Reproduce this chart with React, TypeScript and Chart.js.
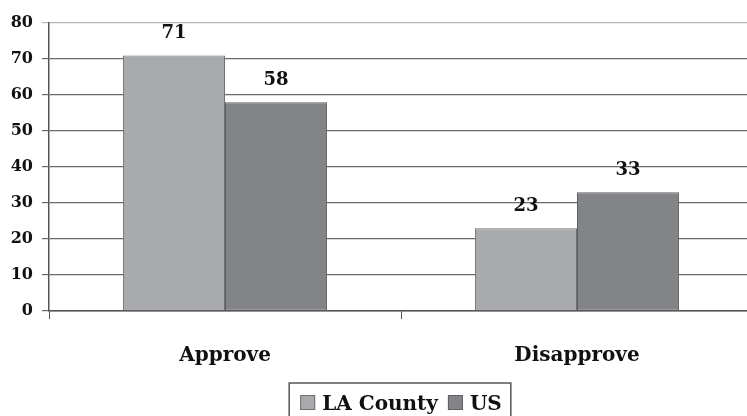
import React, { useEffect, useRef } from "react";
import { Chart, registerables } from "chart.js";

Chart.register(...registerables);

const categories = ["Approve", "Disapprove"];
const seriesNames = ["LA County", "US"];
const laCountyValues = [71, 23];
const usValues = [58, 33];
const yMin = 0;
const yMax = 80;
const yStep = 10;

const FONT = '"DejaVu Serif", serif';

const valueLabels = {
  id: "valueLabels",
  afterDatasetsDraw(chart: any) {
    const ctx = chart.ctx;
    ctx.save();
    ctx.font = `bold 18px ${FONT}`;
    ctx.fillStyle = "#111";
    ctx.textAlign = "center";
    ctx.textBaseline = "middle";
    chart.data.datasets.forEach((ds: any, i: number) => {
      const meta = chart.getDatasetMeta(i);
      meta.data.forEach((el: any, j: number) => {
        ctx.fillText(String(ds.data[j]), el.x, el.y - 22);
      });
    });
    ctx.restore();
  },
};

const boxedLegend = {
  id: "boxedLegend",
  afterDraw(chart: any) {
    const ctx = chart.ctx;
    const area = chart.chartArea;
    ctx.save();
    ctx.font = `bold 20px ${FONT}`;
    const sq = 15;
    const gapAfterSq = 7;
    const gapItems = 10;
    const items = chart.data.datasets.map((ds: any) => ({
      label: ds.label,
      fill: ds.backgroundColor,
      stroke: ds.borderColor,
      w: ctx.measureText(ds.label).width,
    }));
    let total = 0;
    items.forEach((it: any, i: number) => {
      total += sq + gapAfterSq + it.w + (i < items.length - 1 ? gapItems : 0);
    });
    const cx = (area.left + area.right) / 2;
    let x = cx - total / 2;
    const boxTop = 383;
    ctx.strokeStyle = "#555";
    ctx.lineWidth = 1.5;
    ctx.strokeRect(x - 11, boxTop, total + 20, 40);
    const sqTop = 395;
    ctx.textBaseline = "alphabetic";
    ctx.textAlign = "left";
    items.forEach((it: any) => {
      ctx.fillStyle = it.fill;
      ctx.fillRect(x, sqTop, sq, sq);
      ctx.strokeStyle = it.stroke;
      ctx.lineWidth = 1;
      ctx.strokeRect(x + 0.5, sqTop + 0.5, sq - 1, sq - 1);
      x += sq + gapAfterSq;
      ctx.fillStyle = "#111";
      ctx.fillText(it.label, x, 410);
      x += it.w + gapItems;
    });
    ctx.restore();
  },
};

export default function App() {
  const ref = useRef<HTMLCanvasElement | null>(null);

  useEffect(() => {
    document.body.style.margin = "0";
    const canvas = ref.current;
    if (!canvas) return;
    const chart = new Chart(canvas, {
      type: "bar",
      data: {
        labels: categories,
        datasets: [
          {
            label: seriesNames[0],
            data: laCountyValues,
            backgroundColor: "#a8aaad",
            borderColor: "#6f7073",
            borderWidth: 1,
            borderSkipped: false,
            categoryPercentage: 0.58,
            barPercentage: 1,
          },
          {
            label: seriesNames[1],
            data: usValues,
            backgroundColor: "#838487",
            borderColor: "#5e5f61",
            borderWidth: 1,
            borderSkipped: false,
            categoryPercentage: 0.58,
            barPercentage: 1,
          },
        ],
      },
      options: {
        responsive: false,
        animation: false,
        devicePixelRatio: 1,
        layout: { padding: { top: 23, right: 3, left: 0, bottom: 0 } },
        plugins: {
          legend: { display: false },
          tooltip: { enabled: false },
        },
        scales: {
          x: {
            offset: true,
            grid: {
              display: true,
              offset: true,
              drawOnChartArea: false,
              drawTicks: true,
              tickLength: 8,
              color: "#555",
              lineWidth: 1,
            },
            border: { display: true, color: "#555", width: 1.5 },
            ticks: {
              color: "#111",
              font: { family: FONT, size: 20, weight: "bold" },
              padding: 25,
            },
            afterFit(scale: any) {
              scale.height = 105;
            },
          },
          y: {
            min: yMin,
            max: yMax,
            ticks: {
              stepSize: yStep,
              color: "#111",
              font: { family: FONT, size: 16, weight: "bold" },
              padding: 9,
            },
            grid: {
              color: (c: any) => (c.tick && c.tick.value === yMax ? "#b5b5b5" : "#6a6a6a"),
              lineWidth: 1.2,
              tickLength: 7,
              drawTicks: true,
            },
            border: { display: true, color: "#555", width: 1.5 },
            afterFit(scale: any) {
              scale.width = 49;
            },
          },
        },
      },
      plugins: [valueLabels, boxedLegend],
    } as any);
    return () => chart.destroy();
  }, []);

  return (
    <div style={{ width: 747, height: 416, overflow: "hidden", position: "relative", background: "#fff" }}>
      <canvas ref={ref} width={756} height={416} style={{ display: "block", width: 756, height: 416 }} />
    </div>
  );
}
